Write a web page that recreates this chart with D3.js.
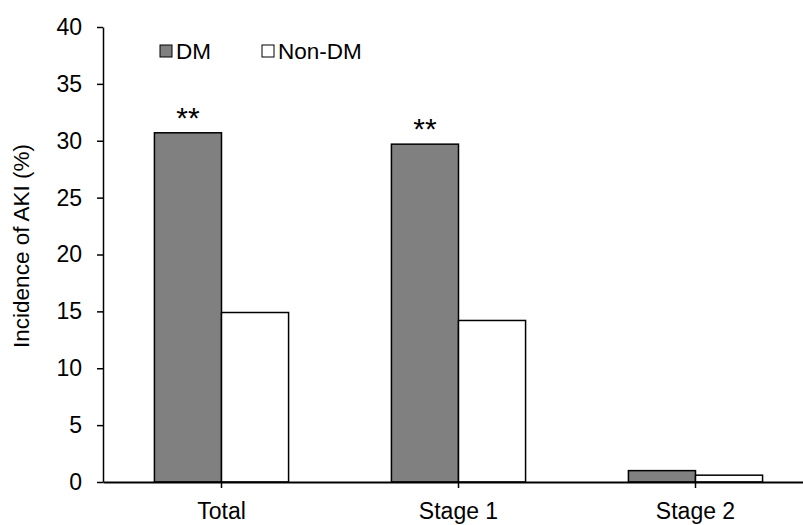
<!DOCTYPE html>
<html>
<head>
<meta charset="utf-8">
<script src="https://cdn.jsdelivr.net/npm/d3@7"></script>
<style>
  body { margin: 0; background: #fff; }
  text { font-family: "Liberation Sans", Arial, sans-serif; fill: #000; }
</style>
</head>
<body>
<div id="chart"></div>
<script>
const categories = ["Total", "Stage 1", "Stage 2"];
const seriesNames = ["DM", "Non-DM"];
const dmValues = [30.7, 29.7, 1.0];
const nonDmValues = [14.9, 14.2, 0.6];
const yTicks = [0, 5, 10, 15, 20, 25, 30, 35, 40];
const marks = ["**", "**", ""];

const colors = { "DM": "#808080", "Non-DM": "#ffffff" };

const width = 803, height = 525;
const margin = { top: 27, right: -11, bottom: 43, left: 103 };
const innerW = width - margin.left - margin.right;
const innerH = height - margin.top - margin.bottom;

const svg = d3.select("#chart").append("svg")
    .attr("width", width)
    .attr("height", height);

const g = svg.append("g")
    .attr("transform", "translate(" + margin.left + "," + margin.top + ")");

const x = d3.scaleBand()
    .domain(categories)
    .range([0, innerW])
    .paddingInner(0.434)
    .paddingOuter(0.217);

const x1 = d3.scaleBand()
    .domain(seriesNames)
    .range([0, x.bandwidth()]);

const y = d3.scaleLinear()
    .domain([0, 40])
    .range([innerH, 0]);

const data = categories.map((c, i) => ({
    cat: c,
    values: [
        { key: "DM", value: dmValues[i] },
        { key: "Non-DM", value: nonDmValues[i] }
    ],
    mark: marks[i]
}));

// bars
const groups = g.selectAll(".grp")
    .data(data)
    .enter()
    .append("g")
    .attr("transform", d => "translate(" + x(d.cat) + ",0)");

groups.selectAll("rect")
    .data(d => d.values)
    .enter()
    .append("rect")
    .attr("x", d => x1(d.key))
    .attr("y", d => y(d.value))
    .attr("width", x1.bandwidth())
    .attr("height", d => innerH - y(d.value))
    .attr("fill", d => colors[d.key])
    .attr("stroke", "#000")
    .attr("stroke-width", 1.5);

// significance marks
groups.append("text")
    .attr("x", x1("DM") + x1.bandwidth() / 2)
    .attr("y", d => y(d.values[0].value) - 5)
    .attr("text-anchor", "middle")
    .style("font-size", "30px")
    .text(d => d.mark);

// y axis
const yAxis = g.append("g")
    .call(d3.axisLeft(y).tickValues(yTicks).tickSize(6).tickPadding(15).tickSizeOuter(0));
yAxis.select(".domain").attr("stroke", "#000").attr("stroke-width", 1.5);
yAxis.selectAll(".tick line").attr("stroke", "#000").attr("stroke-width", 1.5);
yAxis.selectAll(".tick text").style("font-size", "23px").attr("font-family", null);

// x axis
const xAxis = g.append("g")
    .attr("transform", "translate(0," + innerH + ")")
    .call(d3.axisBottom(x).tickSize(6).tickPadding(15).tickSizeOuter(0));
xAxis.select(".domain").attr("stroke", "#000").attr("stroke-width", 2);
xAxis.selectAll(".tick line").attr("stroke", "#000").attr("stroke-width", 1.5);
xAxis.selectAll(".tick text").style("font-size", "23px").attr("font-family", null);

// y label
svg.append("text")
    .attr("transform", "translate(29,246) rotate(-90)")
    .attr("text-anchor", "middle")
    .style("font-size", "22.5px")
    .text("Incidence of AKI (%)");

// legend
const legendX = [160, 262];
const legend = svg.selectAll(".legend")
    .data(seriesNames)
    .enter()
    .append("g")
    .attr("transform", (d, i) => "translate(" + legendX[i] + ",45)");

legend.append("rect")
    .attr("width", 12)
    .attr("height", 12)
    .attr("fill", d => colors[d])
    .attr("stroke", "#000")
    .attr("stroke-width", 1);

legend.append("text")
    .attr("x", 16)
    .attr("y", 14)
    .style("font-size", "22.5px")
    .text(d => d);
</script>
</body>
</html>
